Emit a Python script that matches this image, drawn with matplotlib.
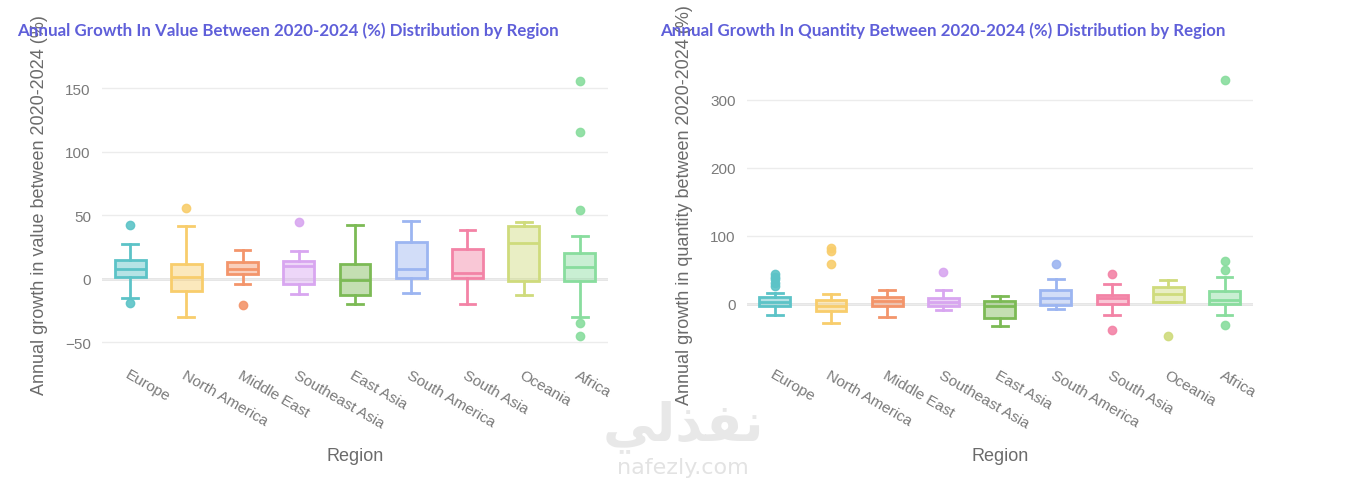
import numpy as np
import matplotlib

matplotlib.use("Agg")
import matplotlib.pyplot as plt

plt.rcParams["font.family"] = ["Liberation Sans", "DejaVu Sans"]

# datos (cuartiles, bigotes y atipicos por region)
regions = ["Europe", "North America", "Middle East", "Southeast Asia", "East Asia",
           "South America", "South Asia", "Oceania", "Africa"]
colors = ["#5cc3c7", "#f8cd6c", "#f3956b", "#d8a6f0", "#7cba55",
          "#9cb5f1", "#f383a6", "#cfdb7c", "#89dd9e"]

value_lo = [-14.9, -29.8, -3.9, -11.8, -19.9, -11.0, -19.9, -12.8, -29.8]
value_q1 = [1.8, -9.9, 3.7, -4.2, -12.6, 0.5, 0.5, -1.6, -1.3]
value_med = [8.1, 1.3, 7.9, 10.2, -1.0, 8.1, 4.5, 28.0, 9.7]
value_q3 = [15.2, 11.8, 13.1, 13.9, 11.3, 28.8, 23.8, 41.6, 20.7]
value_hi = [27.7, 41.4, 22.8, 21.7, 42.7, 45.8, 38.7, 44.8, 33.5]
value_out = [[42.4, -19.1], [55.5], [-20.9], [44.5], [], [], [], [],
             [156, 116, 54.5, -35, -44.8]]

qty_lo = [-16.7, -28.6, -19.7, -8.9, -32.0, -6.9, -15.8, 3.4, -16.7]
qty_q1 = [-3.0, -10.3, -3.9, -3.4, -21.2, -1.5, -1.0, 3.4, 0.0]
qty_med = [3.0, -2.5, 4.4, 3.4, -3.0, 8.9, 8.4, 14.8, 4.9]
qty_q3 = [9.9, 5.9, 9.9, 8.9, 4.4, 20.7, 12.8, 24.6, 18.7]
qty_hi = [16.3, 13.8, 20.2, 20.2, 11.8, 36.5, 29.0, 34.5, 39.4]
qty_out = [[44, 40, 36, 30, 26], [82, 77, 58.6], [], [46.3], [], [58],
           [43.3, -37.9], [-46.8], [329, 63.5, 49.8, -31.5]]

TITLE_COLOR = "#5f5fd9"
GRAY = "#6b6b6b"
TICK_GRAY = "#7a7a7a"


def box_stats(lo, q1, med, q3, hi, out):
    return [dict(whislo=a, q1=b, med=c, q3=d, whishi=e, fliers=f)
            for a, b, c, d, e, f in zip(lo, q1, med, q3, hi, out)]


def draw_panel(ax, stats, yticks, ylim, ylabel):
    pos = np.arange(len(regions))
    bp = ax.bxp(stats, positions=pos, widths=0.55, capwidths=0.28,
                patch_artist=True, showfliers=True, zorder=3)
    for i, c in enumerate(colors):
        rgba = matplotlib.colors.to_rgba(c, 0.45)
        bp["boxes"][i].set(facecolor=rgba, edgecolor=c, linewidth=2)
        bp["medians"][i].set(color=c, linewidth=2)
        for w in bp["whiskers"][2 * i:2 * i + 2]:
            w.set(color=c, linewidth=2)
        for cap in bp["caps"][2 * i:2 * i + 2]:
            cap.set(color=c, linewidth=2)
        bp["fliers"][i].set(marker="o", markerfacecolor=c, markeredgecolor=c,
                            markersize=6, alpha=0.9)
    ax.set_xlim(-0.5, len(regions) - 0.5)
    ax.set_ylim(*ylim)
    ax.set_yticks(yticks)
    ax.set_xticks(pos)
    ax.set_xticklabels(regions, rotation=-30, ha="left", rotation_mode="anchor")
    ax.grid(axis="y", color="#ececec", linewidth=1, zorder=0)
    ax.axhline(0, color="#e2e2e2", linewidth=2, zorder=1)
    for s in ax.spines.values():
        s.set_visible(False)
    ax.tick_params(axis="both", length=0, labelsize=11, labelcolor=TICK_GRAY)
    ax.tick_params(axis="x", pad=6)
    ax.tick_params(axis="y", pad=8)
    ax.set_xlabel("Region", fontsize=13, color=GRAY, labelpad=12)
    ax.set_ylabel(ylabel, fontsize=13, color=GRAY, labelpad=12)


fig = plt.figure(figsize=(13.65, 4.85), dpi=100, facecolor="white")
ax1 = fig.add_axes([0.0747, 0.258, 0.3707, 0.639])
ax2 = fig.add_axes([0.547, 0.258, 0.3707, 0.639])

draw_panel(ax1, box_stats(value_lo, value_q1, value_med, value_q3, value_hi, value_out),
           [-50, 0, 50, 100, 150], (-63, 181),
           "Annual growth in value between 2020-2024 (%)")
draw_panel(ax2, box_stats(qty_lo, qty_q1, qty_med, qty_q3, qty_hi, qty_out),
           [0, 100, 200, 300], (-81, 375),
           "Annual growth in quantity between 2020-2024 (%)")

fig.text(17 / 1365, 1 - 31 / 485, "Annual Growth In Value Between 2020-2024 (%) Distribution by Region",
         fontsize=12.2, fontweight="bold", family="Lato", color=TITLE_COLOR, va="center")
fig.text(660 / 1365, 1 - 31 / 485, "Annual Growth In Quantity Between 2020-2024 (%) Distribution by Region",
         fontsize=12.2, fontweight="bold", family="Lato", color=TITLE_COLOR, va="center")

# marca de agua
fig.text(683 / 1365, 1 - 427 / 485, "\ufef2\ufedf\ufeac\ufed4\ufee7", fontsize=38, fontweight="bold",
         color="#e8e8e8", ha="center", va="center", family=["DejaVu Sans"], zorder=0)
fig.text(683 / 1365, 1 - 468 / 485, "nafezly.com", fontsize=16, color="#e3e3e3",
         ha="center", va="center", family=["DejaVu Sans"], zorder=0)

fig.savefig("out.png", dpi=100, facecolor="white")
